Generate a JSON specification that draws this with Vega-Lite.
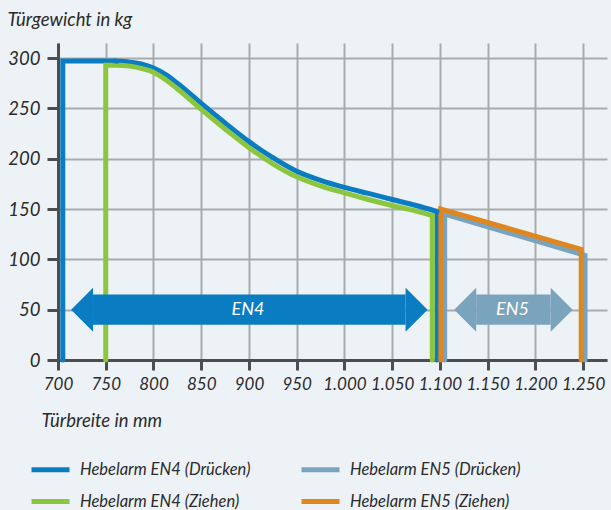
{
  "$schema": "https://vega.github.io/schema/vega-lite/v6.json",
  "autosize": {"type": "none"},
  "padding": {"left": 58, "top": 43, "right": 4, "bottom": 150},
  "width": 549,
  "height": 317,
  "background": "#edf2f7",
  "config": {
    "view": {"stroke": null},
    "font": "Lato",
    "axis": {
      "grid": true,
      "gridColor": "#a9abae",
      "gridWidth": 2,
      "domainColor": "#4d4d4d",
      "domainWidth": 3,
      "tickColor": "#4d4d4d",
      "tickWidth": 3,
      "labelFont": "Lato",
      "labelFontSize": 18.5,
      "labelFontStyle": "italic",
      "labelColor": "#2b2b2b",
      "labelFlush": false,
      "labelOverlap": false,
      "titleFont": "Lato",
      "titleFontSize": 18.5,
      "titleFontStyle": "italic",
      "titleFontWeight": "normal",
      "titleColor": "#2b2b2b"
    }
  },
  "datasets": {
    "geraden": [
      {"serie": "Hebelarm EN4 (Drücken)", "seg": "a", "i": 0, "breite": 705, "gewicht": 0},
      {"serie": "Hebelarm EN4 (Drücken)", "seg": "a", "i": 1, "breite": 705, "gewicht": 297},
      {"serie": "Hebelarm EN4 (Drücken)", "seg": "a", "i": 2, "breite": 760, "gewicht": 297},
      {"serie": "Hebelarm EN4 (Drücken)", "seg": "b", "i": 0, "breite": 1097, "gewicht": 147.5},
      {"serie": "Hebelarm EN4 (Drücken)", "seg": "b", "i": 1, "breite": 1097, "gewicht": 0},
      {"serie": "Hebelarm EN4 (Ziehen)", "seg": "a", "i": 0, "breite": 750, "gewicht": 0},
      {"serie": "Hebelarm EN4 (Ziehen)", "seg": "a", "i": 1, "breite": 750, "gewicht": 293},
      {"serie": "Hebelarm EN4 (Ziehen)", "seg": "a", "i": 2, "breite": 765, "gewicht": 293},
      {"serie": "Hebelarm EN4 (Ziehen)", "seg": "b", "i": 0, "breite": 1092, "gewicht": 143.5},
      {"serie": "Hebelarm EN4 (Ziehen)", "seg": "b", "i": 1, "breite": 1092, "gewicht": 0},
      {"serie": "Hebelarm EN5 (Drücken)", "seg": "a", "i": 0, "breite": 1105, "gewicht": 0},
      {"serie": "Hebelarm EN5 (Drücken)", "seg": "a", "i": 1, "breite": 1105, "gewicht": 145},
      {"serie": "Hebelarm EN5 (Drücken)", "seg": "a", "i": 2, "breite": 1252, "gewicht": 104},
      {"serie": "Hebelarm EN5 (Drücken)", "seg": "a", "i": 3, "breite": 1252, "gewicht": 0},
      {"serie": "Hebelarm EN5 (Ziehen)", "seg": "a", "i": 0, "breite": 1101, "gewicht": 0},
      {"serie": "Hebelarm EN5 (Ziehen)", "seg": "a", "i": 1, "breite": 1101, "gewicht": 150},
      {"serie": "Hebelarm EN5 (Ziehen)", "seg": "a", "i": 2, "breite": 1248, "gewicht": 110},
      {"serie": "Hebelarm EN5 (Ziehen)", "seg": "a", "i": 3, "breite": 1248, "gewicht": 0}
    ],
    "kurven": [
      {"serie": "Hebelarm EN4 (Drücken)", "breite": 760, "gewicht": 297},
      {"serie": "Hebelarm EN4 (Drücken)", "breite": 775, "gewicht": 296},
      {"serie": "Hebelarm EN4 (Drücken)", "breite": 788, "gewicht": 294},
      {"serie": "Hebelarm EN4 (Drücken)", "breite": 800, "gewicht": 290},
      {"serie": "Hebelarm EN4 (Drücken)", "breite": 812, "gewicht": 284},
      {"serie": "Hebelarm EN4 (Drücken)", "breite": 825, "gewicht": 275},
      {"serie": "Hebelarm EN4 (Drücken)", "breite": 850, "gewicht": 255},
      {"serie": "Hebelarm EN4 (Drücken)", "breite": 875, "gewicht": 235.5},
      {"serie": "Hebelarm EN4 (Drücken)", "breite": 900, "gewicht": 217},
      {"serie": "Hebelarm EN4 (Drücken)", "breite": 925, "gewicht": 201},
      {"serie": "Hebelarm EN4 (Drücken)", "breite": 950, "gewicht": 187.5},
      {"serie": "Hebelarm EN4 (Drücken)", "breite": 975, "gewicht": 178.5},
      {"serie": "Hebelarm EN4 (Drücken)", "breite": 1000, "gewicht": 171.5},
      {"serie": "Hebelarm EN4 (Drücken)", "breite": 1025, "gewicht": 165.5},
      {"serie": "Hebelarm EN4 (Drücken)", "breite": 1050, "gewicht": 159.5},
      {"serie": "Hebelarm EN4 (Drücken)", "breite": 1075, "gewicht": 153.5},
      {"serie": "Hebelarm EN4 (Drücken)", "breite": 1097, "gewicht": 147.5},
      {"serie": "Hebelarm EN4 (Ziehen)", "breite": 765, "gewicht": 293},
      {"serie": "Hebelarm EN4 (Ziehen)", "breite": 775, "gewicht": 292},
      {"serie": "Hebelarm EN4 (Ziehen)", "breite": 788, "gewicht": 289.5},
      {"serie": "Hebelarm EN4 (Ziehen)", "breite": 800, "gewicht": 286},
      {"serie": "Hebelarm EN4 (Ziehen)", "breite": 812, "gewicht": 279},
      {"serie": "Hebelarm EN4 (Ziehen)", "breite": 825, "gewicht": 269.5},
      {"serie": "Hebelarm EN4 (Ziehen)", "breite": 850, "gewicht": 249},
      {"serie": "Hebelarm EN4 (Ziehen)", "breite": 875, "gewicht": 229.5},
      {"serie": "Hebelarm EN4 (Ziehen)", "breite": 900, "gewicht": 211},
      {"serie": "Hebelarm EN4 (Ziehen)", "breite": 925, "gewicht": 195},
      {"serie": "Hebelarm EN4 (Ziehen)", "breite": 950, "gewicht": 182},
      {"serie": "Hebelarm EN4 (Ziehen)", "breite": 975, "gewicht": 173},
      {"serie": "Hebelarm EN4 (Ziehen)", "breite": 1000, "gewicht": 166},
      {"serie": "Hebelarm EN4 (Ziehen)", "breite": 1025, "gewicht": 159.5},
      {"serie": "Hebelarm EN4 (Ziehen)", "breite": 1050, "gewicht": 153.5},
      {"serie": "Hebelarm EN4 (Ziehen)", "breite": 1075, "gewicht": 148},
      {"serie": "Hebelarm EN4 (Ziehen)", "breite": 1092, "gewicht": 143.5}
    ],
    "arrows": [
      {"pfeil": "EN4", "links": 736.7, "rechts": 1064, "unten": 35, "oben": 65, "mitte": 50, "textx": 899},
      {"pfeil": "EN5", "links": 1138, "rechts": 1216, "unten": 35, "oben": 65, "mitte": 50, "textx": 1176}
    ]
  },
  "layer": [
    {
      "data": {"name": "geraden"},
      "mark": {"type": "line", "strokeWidth": 5, "strokeCap": "round", "strokeJoin": "miter"},
      "encoding": {
        "x": {
          "field": "breite", "type": "quantitative", "title": "Türbreite in mm",
          "scale": {"domain": [700, 1275], "nice": false, "zero": false},
          "axis": {
            "values": [700, 750, 800, 850, 900, 950, 1000, 1050, 1100, 1150, 1200, 1250],
            "labelExpr": "replace(format(datum.value, ','), ',', '.')",
            "labelFontSize": 17,
            "tickSize": 10,
            "labelPadding": 6,
            "titleX": -17,
            "titleY": 66,
            "titleAlign": "left",
            "titleBaseline": "alphabetic"
          }
        },
        "y": {
          "field": "gewicht", "type": "quantitative", "title": "Türgewicht in kg",
          "scale": {"domain": [0, 315], "nice": false},
          "axis": {
            "values": [0, 50, 100, 150, 200, 250, 300],
            "tickSize": 11,
            "labelPadding": 7,
            "titleAngle": 0,
            "titleX": -51,
            "titleY": -18,
            "titleAlign": "left",
            "titleBaseline": "alphabetic"
          }
        },
        "color": {
          "field": "serie", "type": "nominal",
          "scale": {
            "domain": ["Hebelarm EN4 (Drücken)", "Hebelarm EN4 (Ziehen)", "Hebelarm EN5 (Drücken)", "Hebelarm EN5 (Ziehen)"],
            "range": ["#0a7cc1", "#8cc63f", "#7aa3be", "#e0861e"]
          },
          "legend": {
            "title": null,
            "orient": "none",
            "legendX": -29,
            "legendY": 405,
            "columns": 2,
            "symbolType": "stroke",
            "symbolSize": 1444,
            "symbolStrokeWidth": 5,
            "labelFont": "Lato",
            "labelFontStyle": "italic",
            "labelFontSize": 16.5,
            "labelColor": "#2b2b2b",
            "labelOffset": 8,
            "labelLimit": 300,
            "columnPadding": 40,
            "rowPadding": -12
          }
        },
        "detail": {"field": "seg"},
        "order": {"field": "i", "type": "quantitative"}
      }
    },
    {
      "data": {"name": "kurven"},
      "mark": {"type": "line", "strokeWidth": 5, "strokeCap": "round", "interpolate": "monotone"},
      "encoding": {
        "x": {"field": "breite", "type": "quantitative", "title": "Türbreite in mm"},
        "y": {"field": "gewicht", "type": "quantitative", "title": "Türgewicht in kg"},
        "color": {"field": "serie", "type": "nominal"}
      }
    },
    {
      "data": {"name": "arrows"},
      "mark": {"type": "rect"},
      "encoding": {
        "x": {"field": "links", "type": "quantitative", "title": "Türbreite in mm"},
        "x2": {"field": "rechts"},
        "y": {"field": "unten", "type": "quantitative", "title": "Türgewicht in kg"},
        "y2": {"field": "oben"},
        "fill": {"field": "pfeil", "type": "nominal", "scale": {"domain": ["EN4", "EN5"], "range": ["#0a7cc1", "#7aa3be"]}, "legend": null}
      }
    },
    {
      "data": {"name": "arrows"},
      "mark": {"type": "point", "shape": "M -1 0 L 0 -1 L 0 1 Z", "size": 1936, "filled": true, "opacity": 1, "strokeWidth": 0},
      "encoding": {
        "x": {"field": "links", "type": "quantitative", "title": "Türbreite in mm"},
        "y": {"field": "mitte", "type": "quantitative", "title": "Türgewicht in kg"},
        "fill": {"field": "pfeil", "type": "nominal", "scale": {"domain": ["EN4", "EN5"], "range": ["#0a7cc1", "#7aa3be"]}, "legend": null}
      }
    },
    {
      "data": {"name": "arrows"},
      "mark": {"type": "point", "shape": "M 1 0 L 0 -1 L 0 1 Z", "size": 1936, "filled": true, "opacity": 1, "strokeWidth": 0},
      "encoding": {
        "x": {"field": "rechts", "type": "quantitative", "title": "Türbreite in mm"},
        "y": {"field": "mitte", "type": "quantitative", "title": "Türgewicht in kg"},
        "fill": {"field": "pfeil", "type": "nominal", "scale": {"domain": ["EN4", "EN5"], "range": ["#0a7cc1", "#7aa3be"]}, "legend": null}
      }
    },
    {
      "data": {"name": "arrows"},
      "mark": {"type": "text", "color": "#ffffff", "font": "Lato", "fontStyle": "italic", "fontSize": 18, "baseline": "middle", "align": "center"},
      "encoding": {
        "x": {"field": "textx", "type": "quantitative", "title": "Türbreite in mm"},
        "y": {"field": "mitte", "type": "quantitative", "title": "Türgewicht in kg"},
        "text": {"field": "pfeil"}
      }
    }
  ]
}
